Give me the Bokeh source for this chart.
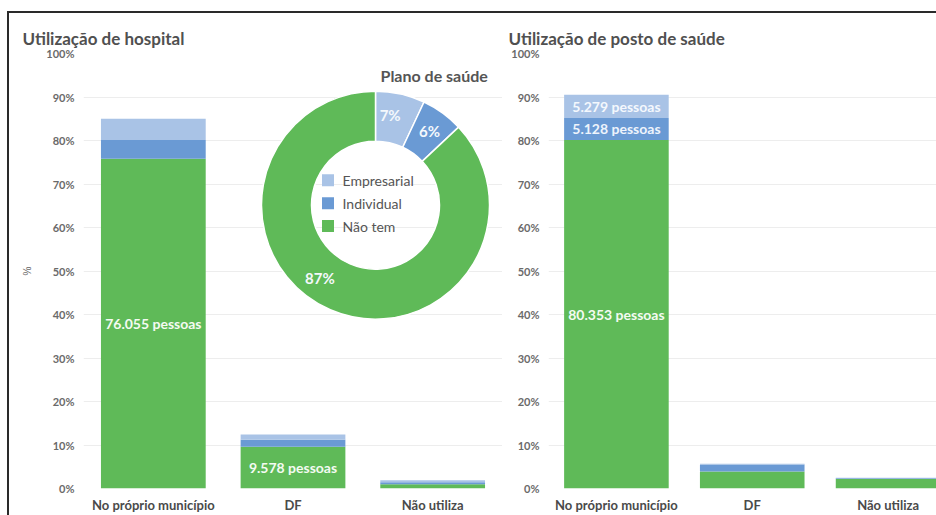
import math
from bokeh.plotting import figure
from bokeh.layouts import row
from bokeh.models import (ColumnDataSource, Range1d, FixedTicker, PrintfTickFormatter)
from bokeh.core.properties import value
from bokeh.embed import file_html
from bokeh.resources import INLINE

# ---------------- data ----------------
categories = ["No próprio município", "DF", "Não utiliza"]
series = ["Não tem", "Individual", "Empresarial"]
colors = ["#5fba58", "#6a9ad4", "#a9c3e6"]

hosp_nao_tem = [75.8, 9.6, 1.0]
hosp_individual = [4.3, 1.6, 0.45]
hosp_empresarial = [4.9, 1.2, 0.45]
hosp_pessoas = ["76.055 pessoas", "9.578 pessoas", ""]

posto_nao_tem = [80.1, 3.9, 2.2]
posto_individual = [5.1, 1.6, 0.15]
posto_empresarial = [5.3, 0.2, 0.15]
posto_pessoas_nao_tem = ["80.353 pessoas", "", ""]
posto_pessoas_individual = ["5.128 pessoas", "", ""]
posto_pessoas_empresarial = ["5.279 pessoas", "", ""]

plano_labels = ["Empresarial", "Individual", "Não tem"]
plano_values = [7, 6, 87]
plano_colors = ["#a9c3e6", "#6a9ad4", "#5fba58"]

y_ticks = list(range(0, 101, 10))

FONT = "Lato"


def base_fig(title, width, min_left, x_end):
    p = figure(width=width, height=502, output_backend="svg", toolbar_location=None,
               x_range=Range1d(-0.5, x_end), y_range=Range1d(0, 100),
               min_border_left=min_left, min_border_right=0,
               min_border_top=40, min_border_bottom=26, title=title)
    p.title.text_font = FONT
    p.title.text_font_size = "17px"
    p.title.text_font_style = "bold"
    p.title.text_color = "#505050"
    p.title.standoff = 9
    p.outline_line_color = None
    p.background_fill_color = "white"
    p.border_fill_color = "white"
    p.xgrid.grid_line_color = None
    p.ygrid.grid_line_color = "#ededed"
    p.ygrid.ticker = FixedTicker(ticks=y_ticks)
    p.yaxis.ticker = FixedTicker(ticks=y_ticks)
    p.yaxis.formatter = PrintfTickFormatter(format="%d%%")
    p.xaxis.ticker = FixedTicker(ticks=list(range(len(categories))))
    p.xaxis.major_label_overrides = {i: c for i, c in enumerate(categories)}
    for ax in (p.xaxis, p.yaxis):
        ax.axis_line_color = None
        ax.major_tick_line_color = None
        ax.minor_tick_line_color = None
        ax.major_label_text_font = FONT
    p.yaxis.major_label_text_font_size = "11px"
    p.yaxis.major_label_text_color = "#6a6a6a"
    p.yaxis.major_label_text_font_style = "bold"
    p.yaxis.major_label_standoff = 3
    p.xaxis.major_label_text_font_size = "13px"
    p.xaxis.major_label_text_font_style = "bold"
    p.xaxis.major_label_text_color = "#4a4a4a"
    p.xaxis.major_label_standoff = 2
    return p


def stack(p, nao, ind, emp, width):
    src = ColumnDataSource(dict(x=list(range(len(categories))),
                                **{series[0]: nao, series[1]: ind, series[2]: emp}))
    p.vbar_stack(series, x="x", width=width, color=colors, line_color=None, source=src)


def seg_labels(p, lower, upper, texts, color):
    mids = [(a + b) / 2 for a, b in zip(lower, upper)]
    src = ColumnDataSource(dict(x=list(range(len(categories))), y=mids, t=texts))
    p.text(x="x", y="y", text="t", source=src, text_align="center", text_baseline="middle",
           text_font=value(FONT), text_font_size="14px", text_font_style="bold",
           text_color=color)


# ---------------- left chart ----------------
p1 = base_fig("Utilização de hospital", 493, 74, 2.5)
p1.title.offset = -61
p1.yaxis.axis_label = "%"
p1.yaxis.axis_label_text_font_size = "10px"
p1.yaxis.axis_label_text_font_style = "normal"
p1.yaxis.axis_label_text_color = "#666666"
p1.yaxis.axis_label_standoff = 10
stack(p1, hosp_nao_tem, hosp_individual, hosp_empresarial, 0.75)
seg_labels(p1, [0] * 3, hosp_nao_tem, hosp_pessoas, "#f4fbf2")

# donut (drawn on pixel-scaled extra ranges of the left plot area)
FW, FH = 493 - 74, 502 - 40 - 26
p1.extra_x_ranges = {"pie_x": Range1d(0, FW)}
p1.extra_y_ranges = {"pie_y": Range1d(0, FH)}
cx, cy = 292, 284
total = sum(plano_values)
starts, ends, mids = [], [], []
acc = 0.0
for v in plano_values:
    a0 = math.pi / 2 - 2 * math.pi * acc / total
    acc += v
    a1 = math.pi / 2 - 2 * math.pi * acc / total
    starts.append(a0)
    ends.append(a1)
    mids.append((a0 + a1) / 2)
label_shift = [0.06, 0.0, -0.24]   # small placement tweaks of the % labels (radians)
R_IN, R_OUT = 64, 114
psrc = ColumnDataSource(dict(x=[cx] * 3, y=[cy] * 3, start=starts, end=ends, color=plano_colors))
p1.annular_wedge(x="x", y="y", inner_radius=R_IN, outer_radius=R_OUT,
                 inner_radius_units="screen", outer_radius_units="screen",
                 start_angle="start", end_angle="end", direction="clock",
                 color="color", line_color="white", line_width=1.5, source=psrc,
                 x_range_name="pie_x", y_range_name="pie_y")
rl = (R_IN + R_OUT) / 2 + 3
pct_src = ColumnDataSource(dict(
    x=[cx + rl * math.cos(m + s) for m, s in zip(mids, label_shift)],
    y=[cy + rl * math.sin(m + s) for m, s in zip(mids, label_shift)],
    t=[f"{v}%" for v in plano_values]))
p1.text(x="x", y="y", text="t", source=pct_src,
        text_align="center", text_baseline="middle", text_font=value(FONT),
        text_font_size="15px", text_font_style="bold", text_color="#f4f8fc",
        x_range_name="pie_x", y_range_name="pie_y")
p1.text(x=[cx + 5], y=[cy + 130], text=["Plano de saúde"],
        text_align="left", text_baseline="middle", text_font=value(FONT),
        text_font_size="16px", text_font_style="bold", text_color="#555555",
        x_range_name="pie_x", y_range_name="pie_y")

# legend inside the hole
leg_y = [cy + 25 - 23 * i for i in range(len(plano_labels))]
leg_src = ColumnDataSource(dict(sx=[cx - 47.5] * 3, tx=[cx - 33] * 3, y=leg_y,
                                t=plano_labels, c=plano_colors))
p1.rect(x="sx", y="y", width=12, height=12, width_units="screen", height_units="screen",
        color="c", line_color=None, source=leg_src,
        x_range_name="pie_x", y_range_name="pie_y")
p1.text(x="tx", y="y", text="t", source=leg_src, text_align="left", text_baseline="middle",
        text_font=value(FONT), text_font_size="14px", text_color="#555555",
        x_range_name="pie_x", y_range_name="pie_y")

# ---------------- right chart ----------------
p2 = base_fig("Utilização de posto de saúde", 434, 46, (936 - 547.5) / 136 - 0.5)
p2.title.offset = -40
stack(p2, posto_nao_tem, posto_individual, posto_empresarial, 0.77)
cum1 = posto_nao_tem
cum2 = [a + b for a, b in zip(cum1, posto_individual)]
cum3 = [a + b for a, b in zip(cum2, posto_empresarial)]
seg_labels(p2, [0] * 3, cum1, posto_pessoas_nao_tem, "#f4fbf2")
seg_labels(p2, cum1, cum2, posto_pessoas_individual, "#eef4fc")
seg_labels(p2, cum2, cum3, posto_pessoas_empresarial, "#f4f8fd")

layout = row(p1, p2, margin=(11, 0, 0, 7),
             styles={"border-top": "2px solid #2a2a2a", "border-left": "2px solid #2a2a2a"})

open("out.html", "w").write(file_html(layout, INLINE))
